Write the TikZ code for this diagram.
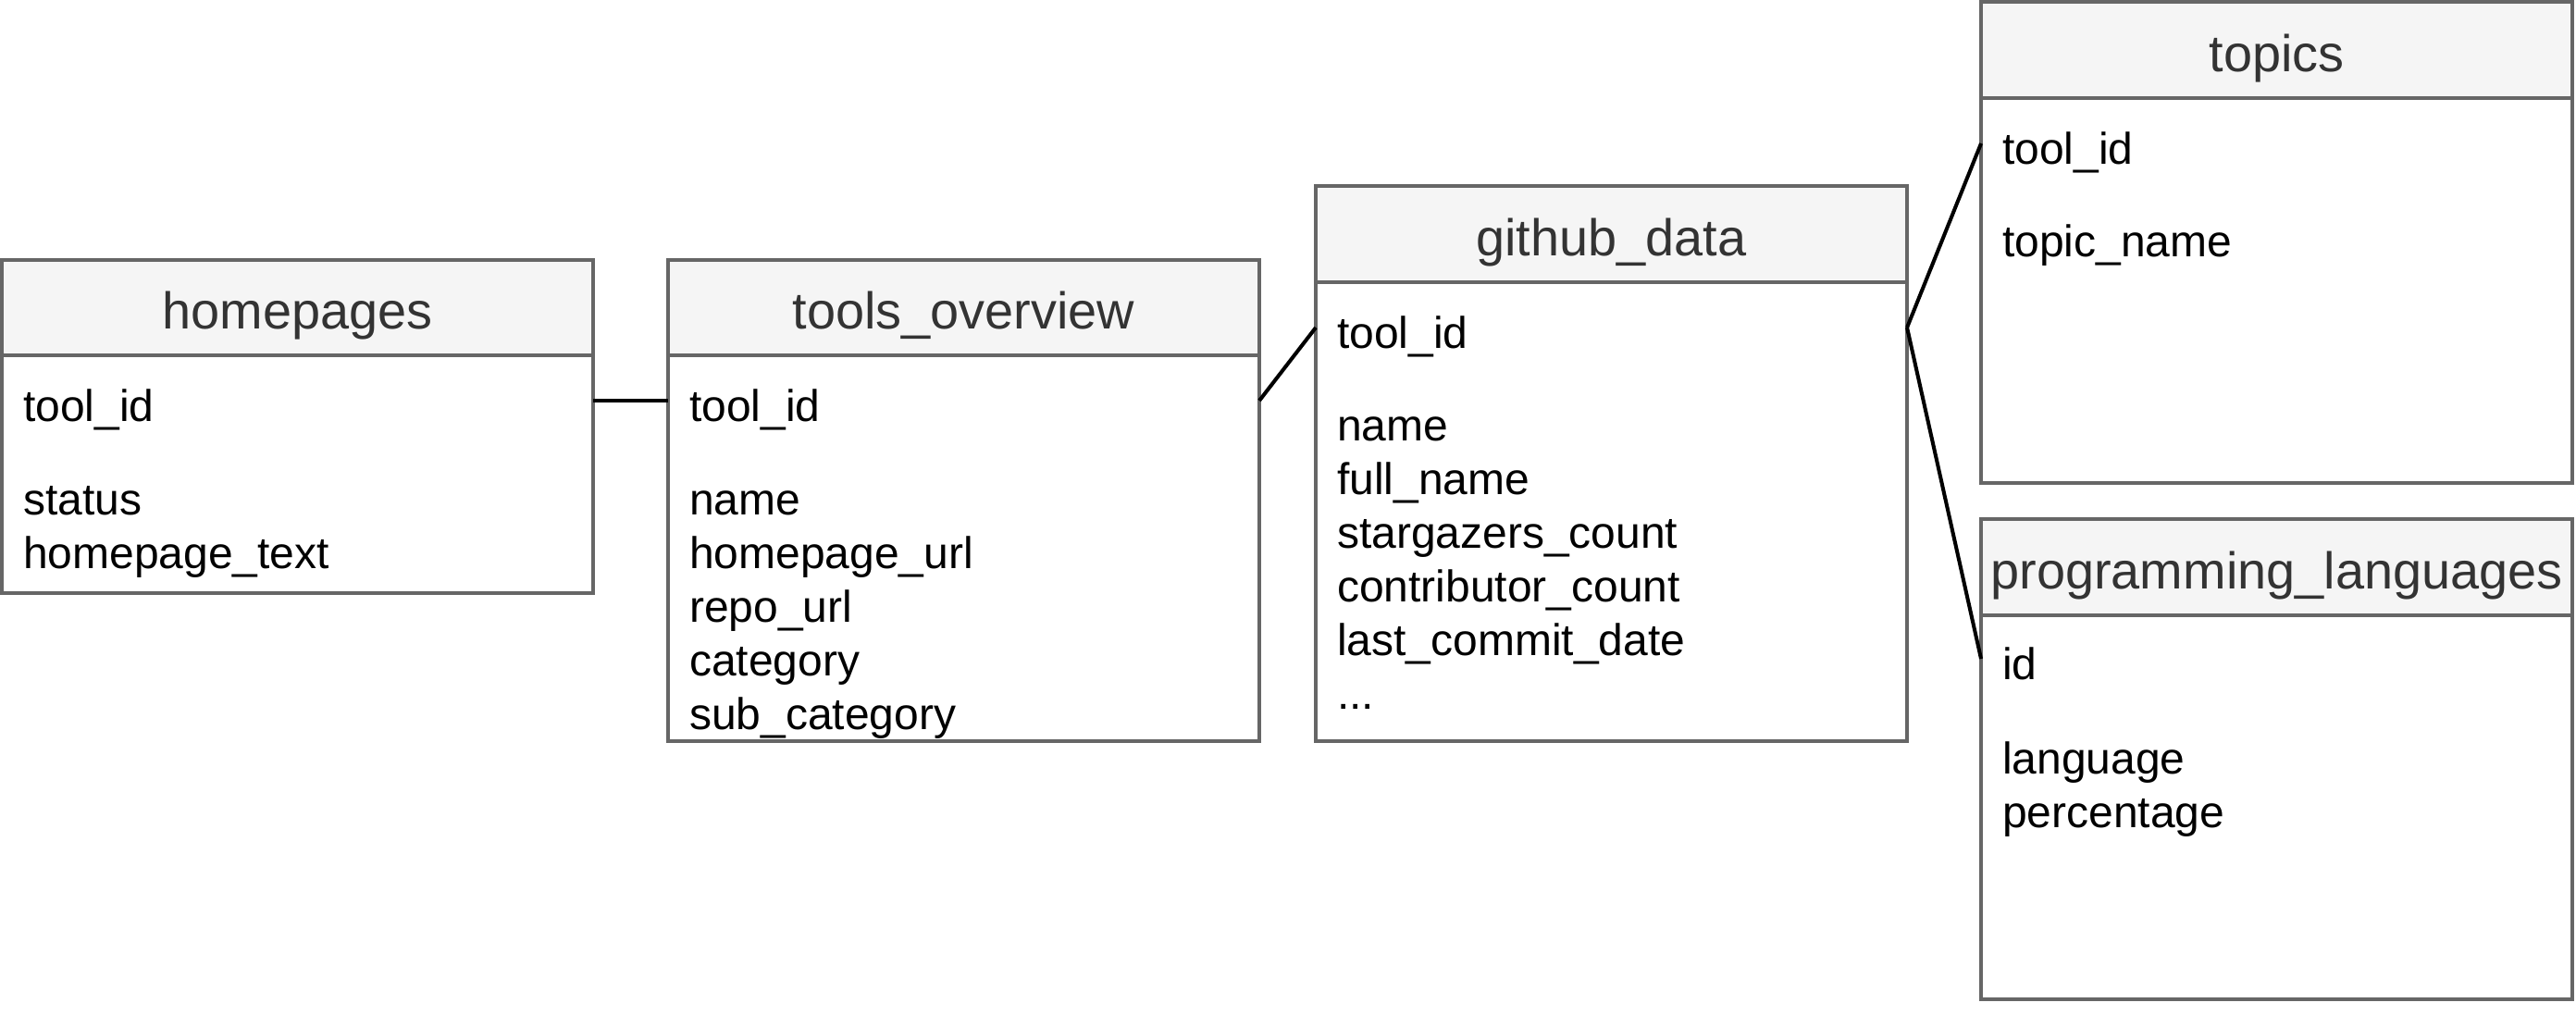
\documentclass[tikz,border=0pt]{standalone}
\usepackage{fontspec}
\setmainfont{Liberation Sans}
\definecolor{headfill}{HTML}{F5F5F5}
\definecolor{boxline}{HTML}{666666}
\definecolor{titletext}{HTML}{333333}
\tikzset{
    tablebox/.style={draw=boxline, line width=1.15pt},
    tablehead/.style={tablebox, fill=headfill},
    tabletitle/.style={text=titletext, font=\fontsize{15.9}{19}\selectfont},
    field/.style={anchor=west, inner xsep=0.23cm, inner ysep=0pt, outer sep=0pt,
        text width=5.93cm, align=left, text height=0.5cm, text depth=0.05cm,
        font=\fontsize{13.66}{16}\selectfont},
    link/.style={line width=1.15pt}
}
\begin{document}
\begin{tikzpicture}
    \useasboundingbox (0,0) rectangle (27.84,-10.96);

    % homepages
    \draw [tablehead] (0.02,-2.81) rectangle (6.41,-3.84);
    \node [tabletitle] (hp-title) at (3.215,-3.41) {homepages};
    \draw [tablebox] (0.02,-3.84) rectangle (6.41,-6.41);
    \node [field] (hp-id) at (0.02,-4.33) {tool\_id};
    \node [field] (hp-status) at (0.02,-5.34) {status};
    \node [field] (hp-text) at (0.02,-5.92) {homepage\_text};

    % tools_overview
    \draw [tablehead] (7.22,-2.81) rectangle (13.61,-3.84);
    \node [tabletitle] (to-title) at (10.415,-3.41) {tools\_overview};
    \draw [tablebox] (7.22,-3.84) rectangle (13.61,-8.01);
    \node [field] (to-id) at (7.22,-4.33) {tool\_id};
    \node [field] (to-name) at (7.22,-5.34) {name};
    \node [field] (to-home) at (7.22,-5.92) {homepage\_url};
    \node [field] (to-repo) at (7.22,-6.50) {repo\_url};
    \node [field] (to-cat) at (7.22,-7.08) {category};
    \node [field] (to-sub) at (7.22,-7.66) {sub\_category};

    % github_data
    \draw [tablehead] (14.22,-2.01) rectangle (20.61,-3.05);
    \node [tabletitle] (gd-title) at (17.415,-2.62) {github\_data};
    \draw [tablebox] (14.22,-3.05) rectangle (20.61,-8.01);
    \node [field] (gd-id) at (14.22,-3.54) {tool\_id};
    \node [field] (gd-name) at (14.22,-4.54) {name};
    \node [field] (gd-full) at (14.22,-5.12) {full\_name};
    \node [field] (gd-stars) at (14.22,-5.70) {stargazers\_count};
    \node [field] (gd-contrib) at (14.22,-6.28) {contributor\_count};
    \node [field] (gd-commit) at (14.22,-6.86) {last\_commit\_date};
    \node [field] (gd-more) at (14.22,-7.44) {...};

    % topics
    \draw [tablehead] (21.41,-0.02) rectangle (27.80,-1.06);
    \node [tabletitle] (tp-title) at (24.605,-0.63) {topics};
    \draw [tablebox] (21.41,-1.06) rectangle (27.80,-5.22);
    \node [field] (tp-id) at (21.41,-1.55) {tool\_id};
    \node [field] (tp-name) at (21.41,-2.55) {topic\_name};

    % programming_languages
    \draw [tablehead] (21.41,-5.61) rectangle (27.80,-6.65);
    \node [tabletitle] (pl-title) at (24.605,-6.22) {programming\_languages};
    \draw [tablebox] (21.41,-6.65) rectangle (27.80,-10.80);
    \node [field] (pl-id) at (21.41,-7.12) {id};
    \node [field] (pl-lang) at (21.41,-8.14) {language};
    \node [field] (pl-pct) at (21.41,-8.72) {percentage};

    % links
    \draw [link] (hp-id.east) -- (to-id.west);
    \draw [link] (to-id.east) -- (gd-id.west);
    \draw [link] (gd-id.east) -- (tp-id.west);
    \draw [link] (gd-id.east) -- (pl-id.west);
\end{tikzpicture}
\end{document}
